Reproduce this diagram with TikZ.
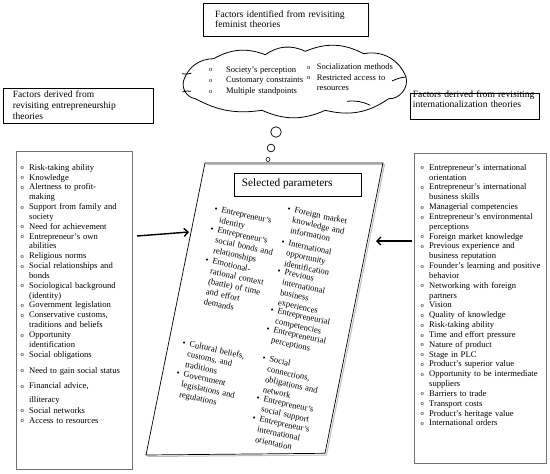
\documentclass[tikz,border=0pt]{standalone}
\usepackage{fontspec}
\setmainfont{Liberation Serif}
\usetikzlibrary{arrows.meta}

\newcommand\obul{\raisebox{0.4pt}{\fontsize{6.5}{6.5}\selectfont o}}
\newcommand\oitem[2][8.5pt]{\noindent\makebox[#1][l]{\obul}#2\par}
\newcommand\ocont[2][8.5pt]{\noindent\hspace*{#1}#2\par}
\newcommand\cbul[1]{\noindent\makebox[7pt][l]{\textbullet}#1\par}
\newcommand\ccont[1]{\noindent\hspace*{7pt}#1\par}

\tikzset{
  lblbox/.style={draw, line width=1.3pt, inner sep=0pt, anchor=north west},
  bigbox/.style={draw=black!55, line width=0.6pt, inner sep=0pt, anchor=north west},
  txt/.style={inner sep=0pt, anchor=base west, align=left},
  listtxt/.style={txt, font=\fontsize{8.6}{9.83}\selectfont},
  ctext/.style={txt, rotate=-12, text width=90pt, font=\fontsize{8.6}{10.3}\selectfont},
  arr/.style={line width=1.4pt, -{Straight Barb[length=4pt,width=8pt]}},
  bubble/.style={circle, draw, line width=0.7pt, inner sep=0pt},
  cloudline/.style={line width=0.8pt}
}

\begin{document}
\begin{tikzpicture}[x=1pt,y=-1pt]
\useasboundingbox (0,0) rectangle (550,474);

% title box
\node[lblbox, minimum width=165pt, minimum height=33pt] (title) at (203,3) {};
\node[txt, text width=150pt, font=\fontsize{9.6}{10}\selectfont] (titletext) at (215,17.9)
  {Factors identified from revisiting\\ feminist theories};

% cloud outline
\coordinate (ca) at (183.7,80.3);
\coordinate (cb) at (213.7,58.7);
\coordinate (cc) at (265.3,54.7);
\coordinate (cd) at (305.3,51.3);
\coordinate (ce) at (363.7,53.7);
\coordinate (cf) at (406,77);
\coordinate (cg) at (388.7,98.7);
\coordinate (ch) at (325.3,110.3);
\coordinate (ci) at (262,110.3);
\coordinate (cj) at (195.3,98.7);
\draw[cloudline, line join=round]
  (ca) to[bend left=35] (cb) to[bend left=25] (cc) to[bend left=30] (cd)
  to[bend left=25] (ce) to[bend left=40] (cf) to[bend left=55] (cg)
  to[bend left=24] (ch) to[bend left=24] (ci) to[bend left=18] (cj)
  to[bend left=50] (ca);
\draw[cloudline] (182,73.7) to[bend right=15] (191.3,73.2);
\draw[cloudline] (182.5,92) to[bend left=15] (191,91.3);
\draw[cloudline] (392,81) to[bend left=10] (cf);
\draw[cloudline] (347,101.3) to[bend left=15] (370.3,105.3);

\node[listtxt, text width=95pt, font=\fontsize{8.5}{10.8}\selectfont] (cloudL) at (209,72)
  {\oitem[17pt]{Society’s perception}\oitem[17pt]{Customary constraints}\oitem[17pt]{Multiple standpoints}};
\node[listtxt, text width=95pt, font=\fontsize{8.5}{10.3}\selectfont] (cloudR) at (307,69.7)
  {\oitem[9.7pt]{Socialization methods}\oitem[9.7pt]{Restricted access to}\ocont[9.7pt]{resources}};

% thought bubbles
\node[bubble, minimum size=10.5pt] (b1) at (276,132) {};
\node[bubble, minimum size=7.7pt] (b2) at (271,148) {};
\node[bubble, minimum size=4pt, line width=0.6pt] (b3) at (268,159.5) {};

% side labels
\node[lblbox, minimum width=150pt, minimum height=35pt] (entlbl) at (3,88) {};
\node[txt, text width=138pt, font=\fontsize{9.5}{11.1}\selectfont] (entlbltext) at (12.7,97.2)
  {Factors derived from\\ revisiting entrepreneurship\\ theories};
\node[lblbox, minimum width=129pt, minimum height=26pt] (intlbl) at (410,93) {};
\node[txt, text width=126pt, font=\fontsize{9.6}{9.3}\selectfont] (intlbltext) at (412.7,97.9)
  {Factors derived from revisiting\\ internationalization theories};

% big list boxes
\node[bigbox, minimum width=116pt, minimum height=318pt] (entbox) at (16,151) {};
\node[listtxt, text width=110pt] (entlist) at (20.5,170.3) {%
\oitem{Risk-taking ability}
\oitem{Knowledge}
\oitem{Alertness to profit-}\ocont{making}
\oitem{Support from family and}\ocont{society}
\oitem{Need for achievement}
\oitem{Entrepreneur’s own}\ocont{abilities}
\oitem{Religious norms}
\oitem{Social relationships and}\ocont{bonds}
\oitem{Sociological background}\ocont{(identity)}
\oitem{Government legislation}
\oitem{Conservative customs,}\ocont{traditions and beliefs}
\oitem{Opportunity}\ocont{identification}
\oitem{Social obligations}
\vspace{6.2pt}\oitem{Need to gain social status}
\vspace{5.9pt}\oitem{Financial advice,}
\vspace{4.2pt}\ocont{illiteracy}
\vspace{0.5pt}\oitem{Social networks}
\oitem{Access to resources}};

\node[bigbox, minimum width=132pt, minimum height=310pt] (intbox) at (414,153) {};
\node[listtxt, text width=124pt] (intlist) at (420.5,170.3) {%
\oitem{Entrepreneur’s international}\ocont{orientation}
\oitem{Entrepreneur’s international}\ocont{business skills}
\oitem{Managerial competencies}
\oitem{Entrepreneur’s environmental}\ocont{perceptions}
\oitem{Foreign market knowledge}
\oitem{Previous experience and}\ocont{business reputation}
\oitem{Founder’s learning and positive}\ocont{behavior}
\oitem{Networking with foreign}\ocont{partners}
\oitem{Vision}
\oitem{Quality of knowledge}
\oitem{Risk-taking ability}
\oitem{Time and effort pressure}
\oitem{Nature of product}
\oitem{Stage in PLC}
\oitem{Product’s superior value}
\oitem{Opportunity to be intermediate}\ocont{suppliers}
\oitem{Barriers to trade}
\oitem{Transport costs}
\oitem{Product’s heritage value}
\oitem{International orders}};

% central sheet
\draw[black!25, line width=1pt] (206.5,164.5) -- (384.5,164.5) -- (326.5,455) -- (147.5,456.5);
\draw[line width=0.7pt] (205,163) -- (383,163) -- (325,453.3) -- (146,455) -- cycle;
\node[draw, line width=0.6pt, minimum width=127pt, minimum height=23pt, inner sep=0pt, anchor=north west] (selbox) at (234,173) {};
\node[txt, font=\fontsize{11.3}{13}\selectfont] (seltext) at (241.7,186.7) {Selected parameters};

% central items, left column
\node[ctext] (c1) at (214,211.4) {\cbul{Entrepreneur’s}\ccont{identity}};
\node[ctext] (c2) at (210,231.4) {\cbul{Entrepreneur’s}\ccont{social bonds and}\ccont{relationships}};
\node[ctext] (c3) at (205,262.4) {\cbul{Emotional-}\ccont{rational context}\ccont{(battle) of time}\ccont{and effort}\ccont{demands}};
\node[ctext] (c4) at (182,345.4) {\cbul{Cultural beliefs,}\ccont{customs, and}\ccont{traditions}};
\node[ctext] (c5) at (176,375.4) {\cbul{Government}\ccont{legislations and}\ccont{regulations}};
% central items, right column
\node[ctext] (d1) at (287,211.4) {\cbul{Foreign market}\ccont{knowledge and}\ccont{information}};
\node[ctext] (d2) at (281,244.4) {\cbul{International}\ccont{opportunity}\ccont{identification}};
\node[ctext] (d3) at (277,273.4) {\cbul{Previous}\ccont{international}\ccont{business}\ccont{experiences}};
\node[ctext] (d4) at (270,312.4) {\cbul{Entrepreneurial}\ccont{competencies}};
\node[ctext] (d5) at (266,331.4) {\cbul{Entrepreneurial}\ccont{perceptions}};
\node[ctext] (d6) at (262,360.4) {\cbul{Social}\ccont{connections,}\ccont{obligations and}\ccont{network}};
\node[ctext] (d7) at (256,400.4) {\cbul{Entrepreneur’s}\ccont{social support}};
\node[ctext] (d8) at (252,420.4) {\cbul{Entrepreneur’s}\ccont{international}\ccont{orientation}};

% arrows
\coordinate (la1) at (137,236);
\coordinate (la2) at (189,232);
\coordinate (ra1) at (412,241);
\coordinate (ra2) at (376,241);
\draw[arr] (la1) -- (la2);
\draw[arr] (ra1) -- (ra2);
\end{tikzpicture}
\end{document}
